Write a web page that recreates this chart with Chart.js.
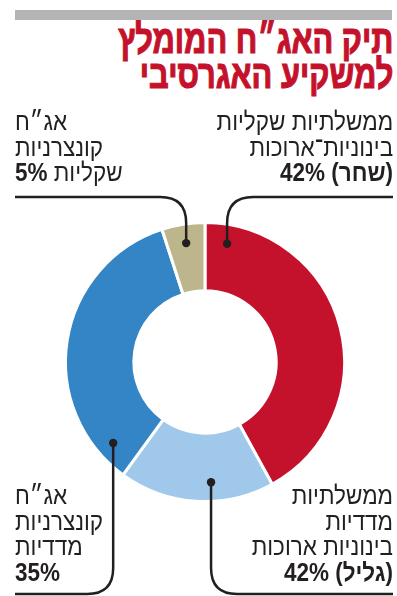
<!DOCTYPE html>
<html lang="he">
<head>
<meta charset="utf-8">
<script src="https://cdn.jsdelivr.net/npm/chart.js@4.4.1/dist/chart.umd.min.js"></script>
<style>
  html, body { margin:0; padding:0; background:#fff; }
  #wrap { position:relative; width:397px; height:596px; overflow:hidden; }
  #c { position:absolute; left:0; top:0; }
  .bar { position:absolute; left:15px; top:10px; width:377px; height:10px; background:#b4b4b7; }
  .title { position:absolute; right:4px; top:22px; direction:rtl; text-align:right;
    font-family:"Liberation Sans", Arial, sans-serif; font-weight:bold; color:#c4122d;
    -webkit-text-stroke:1.2px #c4122d;
    font-size:40px; line-height:35px; transform:scaleX(0.77); transform-origin:right top; white-space:nowrap; }
  .lbl { position:absolute; direction:rtl; font-family:"Liberation Sans", Arial, sans-serif;
    font-size:25px; line-height:25.5px; color:#231f20; white-space:nowrap; transform:scaleX(0.9); }
  .lbl b { font-weight:bold; }
</style>
</head>
<body>
<div id="wrap">
  <div class="bar"></div>
  <div class="title" id="title"></div>
  <canvas id="c" width="397" height="596"></canvas>
  <div id="labels"></div>
</div>
<script>
// ---- data ----
const titleLines = ["תיק האג״ח המומלץ", "למשקיע האגרסיבי"];
const categories = [
  "ממשלתיות שקליות בינוניות־ארוכות (שחר)",
  "ממשלתיות מדדיות בינוניות ארוכות (גליל)",
  "אג״ח קונצרניות מדדיות",
  "אג״ח קונצרניות שקליות"
];
const values = [42, 18, 35, 5];
const valueLabels = ["42%", "42%", "35%", "5%"];
const colors = ["#c4122d", "#a0c8eb", "#3385c6", "#bdb68c"];
// label text lines ({v} = value; lines wrapped in ** are bold)
const labelLines = [
  ["ממשלתיות שקליות", "בינוניות־ארוכות", "**(שחר) {v}**"],
  ["ממשלתיות", "מדדיות", "בינוניות ארוכות", "**(גליל) {v}**"],
  ["אג״ח", "קונצרניות", "מדדיות", "**{v}**"],
  ["אג״ח", "קונצרניות", "שקליות **{v}**"]
];

// ---- layout (styles/positions) ----
const labelBoxes = [
  {right:4, top:109, align:"right", origin:"right top"},
  {right:4, top:483, align:"right", origin:"right top"},
  {left:15, top:483, align:"left", origin:"left top"},
  {left:15, top:109, align:"left", origin:"left top"}
];
// leader lines: where on the arc the dot sits (fraction along the arc, fraction across ring), line level, direction
const leaders = [
  {along:0.07, across:0.72, y:197, toX:393, dir:1, up:true},
  {along:0.40, across:0.72, y:594, toX:393, dir:1, up:false},
  {along:0.10, across:0.75, y:594, toX:15, dir:-1, up:false},
  {along:0.50, across:0.72, y:197, toX:15, dir:-1, up:true}
];

document.getElementById('title').innerHTML = titleLines.map(t => '<div>' + t + '</div>').join('');
const lab = document.getElementById('labels');
labelLines.forEach((lines, i) => {
  const d = document.createElement('div');
  d.className = 'lbl';
  const b = labelBoxes[i];
  if (b.right !== undefined) d.style.right = b.right + 'px';
  if (b.left !== undefined) d.style.left = b.left + 'px';
  d.style.top = b.top + 'px';
  d.style.textAlign = b.align;
  d.style.transformOrigin = b.origin;
  d.innerHTML = lines.map(l => '<div>' +
    l.replace('{v}', valueLabels[i]).replace(/\*\*(.+?)\*\*/g, '<b>$1</b>') + '</div>').join('');
  lab.appendChild(d);
});

const leaderPlugin = {
  id: 'leaders',
  afterDatasetsDraw(chart) {
    const ctx = chart.ctx;
    const meta = chart.getDatasetMeta(0);
    ctx.save();
    ctx.strokeStyle = '#231f20';
    ctx.fillStyle = '#231f20';
    ctx.lineWidth = 2.5;
    meta.data.forEach((arc, i) => {
      const L = leaders[i];
      const p = arc.getProps(['x','y','startAngle','endAngle','innerRadius','outerRadius'], true);
      const a = p.startAngle + L.along * (p.endAngle - p.startAngle);
      const r = p.innerRadius + L.across * (p.outerRadius - p.innerRadius);
      const dx = p.x + r * Math.cos(a);
      const dy = p.y + r * Math.sin(a);
      const R = 26;
      const s = L.up ? -1 : 1;
      ctx.beginPath();
      ctx.moveTo(dx, dy);
      ctx.lineTo(dx, L.y - s * R);
      ctx.quadraticCurveTo(dx, L.y, dx + L.dir * R, L.y);
      ctx.lineTo(L.toX, L.y);
      ctx.stroke();
      ctx.beginPath();
      ctx.arc(dx, dy, 4.2, 0, Math.PI * 2);
      ctx.fill();
    });
    ctx.restore();
  }
};

new Chart(document.getElementById('c'), {
  type: 'doughnut',
  data: {
    labels: categories,
    datasets: [{
      data: values,
      backgroundColor: colors,
      borderColor: '#ffffff',
      borderWidth: 3,
      hoverOffset: 0
    }]
  },
  options: {
    responsive: false,
    animation: false,
    cutout: '51%',
    layout: { padding: { left: 64, right: 51, top: 221, bottom: 93 } },
    plugins: { legend: { display: false }, tooltip: { enabled: false } },
    events: []
  },
  plugins: [leaderPlugin]
});
</script>
</body>
</html>
